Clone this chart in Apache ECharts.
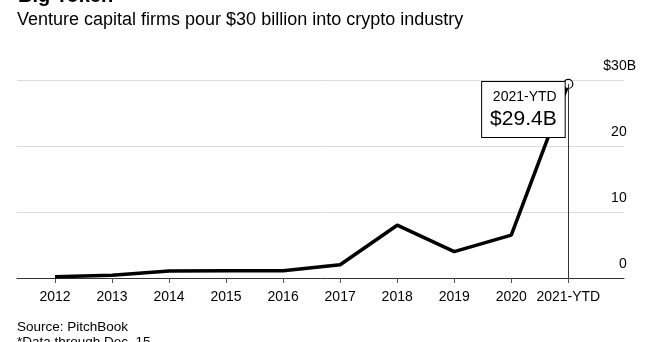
<!DOCTYPE html>
<html>
<head>
<meta charset="utf-8">
<script src="https://cdn.jsdelivr.net/npm/echarts@6/dist/echarts.min.js"></script>
<style>
html,body{margin:0;padding:0;background:#fff;}
#c{width:652px;height:342px;}
</style>
</head>
<body>
<div id="c"></div>
<script>
const categories = ['2012','2013','2014','2015','2016','2017','2018','2019','2020','2021-YTD'];
const values = [0.2, 0.4, 1.05, 1.1, 1.1, 2.0, 8.0, 4.0, 6.5, 29.4];
const yTicks = [0, 10, 20, 30];
const annotationTitle = '2021-YTD';
const annotationValue = '$29.4B';

const FONT = 'Liberation Sans, Arial, sans-serif';
const seriesData = values.map((v, i) => [i, v]);
const lastIdx = values.length - 1;

const chart = echarts.init(document.getElementById('c'), null, {renderer: 'canvas'});
chart.setOption({
  backgroundColor: '#fff',
  animation: false,
  title: [
    {text: 'Big Token', left: 18, top: -14, padding: 0, textStyle: {fontFamily: FONT, fontWeight: 'bold', fontSize: 20, color: '#000'}},
    {text: 'Venture capital firms pour $30 billion into crypto industry', left: 17, top: 11, padding: 0, textStyle: {fontFamily: FONT, fontWeight: 'normal', fontSize: 18, color: '#000'}},
    {text: 'Source: PitchBook', left: 17, top: 320, padding: 0, textStyle: {fontFamily: FONT, fontWeight: 'normal', fontSize: 13.5, color: '#000'}},
    {text: '*Data through Dec. 15', left: 17, top: 335, padding: 0, textStyle: {fontFamily: FONT, fontWeight: 'normal', fontSize: 13.5, color: '#000'}}
  ],
  grid: {left: 17, right: 28, top: 80, bottom: 64, containLabel: false},
  xAxis: {
    type: 'value',
    min: -0.666,
    max: 9.977,
    axisLine: {show: true, onZero: true, lineStyle: {color: '#333', width: 1}},
    axisTick: {show: true, customValues: categories.map((c, i) => i), length: 5, lineStyle: {color: '#555', width: 1}},
    axisLabel: {
      show: true,
      customValues: categories.map((c, i) => i),
      formatter: v => categories[Math.round(v)],
      fontFamily: FONT, fontSize: 14, color: '#000', margin: 12
    },
    splitLine: {show: false}
  },
  yAxis: {
    type: 'value',
    position: 'right',
    min: 0, max: 30, interval: 10,
    axisLine: {show: false},
    axisTick: {show: false},
    splitLine: {show: true, lineStyle: {color: '#dcdcdc', width: 1}},
    axisLabel: {
      show: true,
      align: 'right',
      verticalAlign: 'bottom',
      margin: 12,
      padding: [0, 0, 7, 0],
      formatter: v => v === 30 ? '{n|$30B}' : '{n|' + v + '}{h|B}',
      rich: {
        n: {fontFamily: FONT, fontSize: 14, color: '#000'},
        h: {fontFamily: FONT, fontSize: 14, color: 'rgba(0,0,0,0)'}
      }
    }
  },
  series: [{
    type: 'line',
    data: seriesData,
    lineStyle: {color: '#000', width: 3.5},
    itemStyle: {color: '#fff', borderColor: '#000', borderWidth: 1.2},
    symbol: (val, p) => p.dataIndex === lastIdx ? 'circle' : 'none',
    symbolSize: 9,
    showSymbol: true,
    z: 3,
    label: {
      show: true,
      formatter: p => p.dataIndex === lastIdx ? '{a|' + annotationTitle + '}\n{b|' + annotationValue + '}' : '',
      position: 'left',
      distance: 0,
      align: 'right',
      verticalAlign: 'top',
      offset: [1.5, -2],
      backgroundColor: '#fff',
      borderColor: '#000',
      borderWidth: 1,
      padding: [6, 8, 5, 8],
      rich: {
        a: {fontFamily: FONT, fontSize: 14, color: '#000', lineHeight: 19},
        b: {fontFamily: FONT, fontSize: 21, color: '#000', lineHeight: 25}
      }
    },
    markLine: {
      silent: true,
      symbol: ['none', 'none'],
      label: {show: false},
      lineStyle: {color: '#333', width: 1, type: 'solid'},
      data: [[{coord: [lastIdx, values[lastIdx]]}, {coord: [lastIdx, 0]}]]
    }
  }]
});
</script>
</body>
</html>
